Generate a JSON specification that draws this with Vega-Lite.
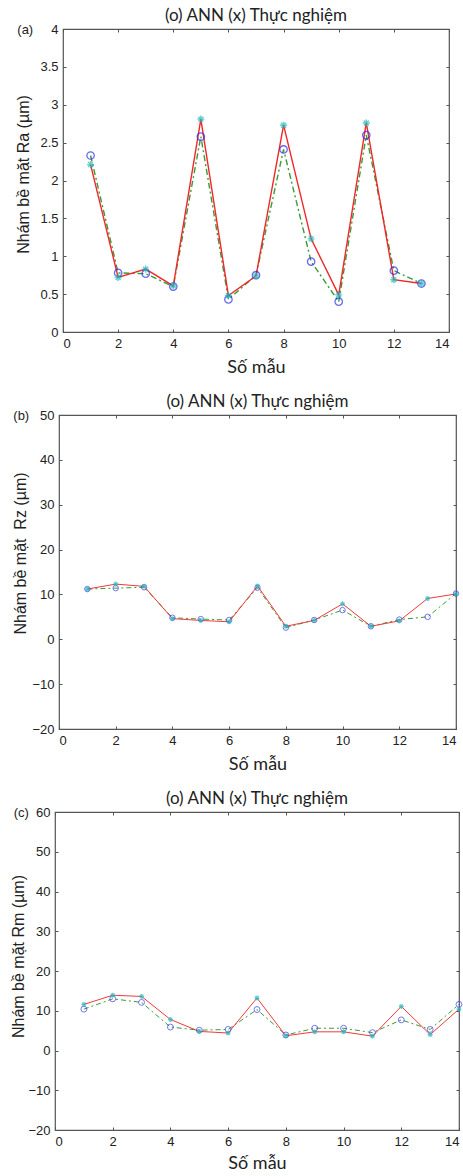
{
  "$schema": "https://vega.github.io/schema/vega-lite/v6.json",
  "background": "white",
  "padding": {"left": 0, "top": 6, "right": 0, "bottom": 0},
  "spacing": 15,
  "config": {
    "view": {"stroke": "#555", "strokeWidth": 1.2},
    "axis": {
      "labelFont": "Liberation Sans", "labelFontSize": 13, "labelColor": "#222",
      "titleFont": "Liberation Sans", "titleFontSize": 16, "titleFontWeight": "normal", "titleColor": "#222",
      "domain": false, "grid": false, "tickColor": "#555", "tickSize": -3, "labelPadding": 8
    },
    "title": {"font": "Lato", "fontSize": 17, "fontWeight": "normal", "color": "#222", "offset": -2}
  },
  "datasets": {
    "a": [
      {"x": 1, "ann": 2.33, "exp": 2.21},
      {"x": 2, "ann": 0.78, "exp": 0.72},
      {"x": 3, "ann": 0.77, "exp": 0.83},
      {"x": 4, "ann": 0.60, "exp": 0.61},
      {"x": 5, "ann": 2.58, "exp": 2.81},
      {"x": 6, "ann": 0.43, "exp": 0.48},
      {"x": 7, "ann": 0.75, "exp": 0.74},
      {"x": 8, "ann": 2.41, "exp": 2.73},
      {"x": 9, "ann": 0.93, "exp": 1.23},
      {"x": 10, "ann": 0.40, "exp": 0.49},
      {"x": 11, "ann": 2.60, "exp": 2.76},
      {"x": 12, "ann": 0.81, "exp": 0.69},
      {"x": 13, "ann": 0.64, "exp": 0.64}
    ],
    "b": [
      {"x": 1, "ann": 11.2, "exp": 11.2},
      {"x": 2, "ann": 11.4, "exp": 12.3},
      {"x": 3, "ann": 11.6, "exp": 11.8},
      {"x": 4, "ann": 4.8, "exp": 4.6},
      {"x": 5, "ann": 4.5, "exp": 4.2},
      {"x": 6, "ann": 4.3, "exp": 3.9},
      {"x": 7, "ann": 11.5, "exp": 11.9},
      {"x": 8, "ann": 2.6, "exp": 2.9},
      {"x": 9, "ann": 4.3, "exp": 4.2},
      {"x": 10, "ann": 6.5, "exp": 7.9},
      {"x": 11, "ann": 2.9, "exp": 2.9},
      {"x": 12, "ann": 4.4, "exp": 4.1},
      {"x": 13, "ann": 5.0, "exp": 9.1},
      {"x": 14, "ann": 10.2, "exp": 10.1}
    ],
    "c": [
      {"x": 1, "ann": 10.4, "exp": 11.6},
      {"x": 2, "ann": 13.0, "exp": 13.9},
      {"x": 3, "ann": 12.1, "exp": 13.6},
      {"x": 4, "ann": 5.9, "exp": 7.8},
      {"x": 5, "ann": 5.1, "exp": 4.8},
      {"x": 6, "ann": 5.3, "exp": 4.4},
      {"x": 7, "ann": 10.3, "exp": 13.2},
      {"x": 8, "ann": 3.9, "exp": 3.7},
      {"x": 9, "ann": 5.6, "exp": 4.7},
      {"x": 10, "ann": 5.6, "exp": 4.7},
      {"x": 11, "ann": 4.5, "exp": 3.6},
      {"x": 12, "ann": 7.7, "exp": 11.1},
      {"x": 13, "ann": 5.3, "exp": 4.0},
      {"x": 14, "ann": 11.6, "exp": 10.4}
    ],
    "none": []
  },
  "vconcat": [
    {
      "hconcat": [
        {"width": 14, "height": 10, "view": {"stroke": null}, "data": {"name": "none"}, "mark": "point"},
        {
          "width": 386, "height": 303,
          "title": {"text": "(o) ANN (x) Thực nghiệm"},
          "data": {"name": "a"},
          "resolve": {"axis": {"x": "independent", "y": "independent"}},
          "layer": [
            {"mark": {"type": "line", "color": "#3a9a3a", "strokeDash": [6, 3, 2, 3], "strokeWidth": 1.4},
             "encoding": {
               "x": {"field": "x", "type": "quantitative", "scale": {"domain": [0, 14], "nice": false, "zero": false},
                     "axis": {"values": [0, 2, 4, 6, 8, 10, 12, 14], "title": "Số mẫu", "titleFont": "Lato", "titleFontSize": 18, "titlePadding": 8}},
               "y": {"field": "ann", "type": "quantitative", "scale": {"domain": [0, 4], "nice": false, "zero": false},
                     "axis": {"values": [0, 0.5, 1, 1.5, 2, 2.5, 3, 3.5, 4], "format": ".1~f", "title": "Nhám bề mặt Ra (µm)", "titleX": -32, "titleY": 145,
                              "labelExpr": "datum.value == 4 ? '(a)\u00a0\u00a0\u00a0\u00a0\u00a04' : datum.label"}}
             }},
            {"mark": {"type": "line", "color": "#f02828", "strokeWidth": 1.4},
             "encoding": {
               "x": {"field": "x", "type": "quantitative", "scale": {"domain": [0, 14], "nice": false, "zero": false},
                     "axis": {"orient": "top", "values": [0, 2, 4, 6, 8, 10, 12, 14], "labels": false, "title": null}},
               "y": {"field": "exp", "type": "quantitative", "scale": {"domain": [0, 4], "nice": false, "zero": false},
                     "axis": {"orient": "right", "values": [0, 0.5, 1, 1.5, 2, 2.5, 3, 3.5, 4], "labels": false, "title": null}}
             }},
            {"mark": {"type": "point", "shape": "circle", "filled": false, "color": "#2a2aee", "size": 55, "strokeWidth": 1.3},
             "encoding": {
               "x": {"field": "x", "type": "quantitative", "scale": {"domain": [0, 14], "nice": false, "zero": false}, "axis": null},
               "y": {"field": "ann", "type": "quantitative", "scale": {"domain": [0, 4], "nice": false, "zero": false}, "axis": null}
             }},
            {"mark": {"type": "point", "shape": "M-1,0L1,0M0,-1L0,1M-0.7,-0.7L0.7,0.7M-0.7,0.7L0.7,-0.7", "filled": false, "color": "#1fb8b8", "size": 50, "strokeWidth": 1.4},
             "encoding": {
               "x": {"field": "x", "type": "quantitative", "scale": {"domain": [0, 14], "nice": false, "zero": false}, "axis": null},
               "y": {"field": "exp", "type": "quantitative", "scale": {"domain": [0, 4], "nice": false, "zero": false}, "axis": null}
             }}
          ]
        }
      ],
      "spacing": 0, "align": "none"
    },
    {
      "hconcat": [
        {"width": 11, "height": 10, "view": {"stroke": null}, "data": {"name": "none"}, "mark": "point"},
        {
          "width": 397, "height": 314,
          "title": {"text": "(o) ANN (x) Thực nghiệm"},
          "data": {"name": "b"},
          "resolve": {"axis": {"x": "independent", "y": "independent"}},
          "layer": [
            {"mark": {"type": "line", "color": "#3a9a3a", "strokeDash": [5, 3, 2, 3], "strokeWidth": 1},
             "encoding": {
               "x": {"field": "x", "type": "quantitative", "scale": {"domain": [0, 14], "nice": false, "zero": false},
                     "axis": {"values": [0, 2, 4, 6, 8, 10, 12, 14], "title": "Số mẫu", "titleFont": "Lato", "titleFontSize": 18, "titlePadding": 8}},
               "y": {"field": "ann", "type": "quantitative", "scale": {"domain": [-20, 50], "nice": false, "zero": false},
                     "axis": {"values": [-20, -10, 0, 10, 20, 30, 40, 50], "title": "Nhám bề mặt\u00a0 Rz (µm)", "titleX": -31, "titleY": 138,
                              "labelExpr": "datum.value == 50 ? '(b)\u00a0\u00a0\u00a050' : datum.label"}}
             }},
            {"mark": {"type": "line", "color": "#f03a3a", "strokeWidth": 1},
             "encoding": {
               "x": {"field": "x", "type": "quantitative", "scale": {"domain": [0, 14], "nice": false, "zero": false},
                     "axis": {"orient": "top", "values": [0, 2, 4, 6, 8, 10, 12, 14], "labels": false, "title": null}},
               "y": {"field": "exp", "type": "quantitative", "scale": {"domain": [-20, 50], "nice": false, "zero": false},
                     "axis": {"orient": "right", "values": [-20, -10, 0, 10, 20, 30, 40, 50], "labels": false, "title": null}}
             }},
            {"mark": {"type": "point", "shape": "circle", "filled": false, "color": "#3a3aee", "size": 30, "strokeWidth": 1},
             "encoding": {
               "x": {"field": "x", "type": "quantitative", "scale": {"domain": [0, 14], "nice": false, "zero": false}, "axis": null},
               "y": {"field": "ann", "type": "quantitative", "scale": {"domain": [-20, 50], "nice": false, "zero": false}, "axis": null}
             }},
            {"mark": {"type": "point", "shape": "M-1,0L1,0M0,-1L0,1M-0.7,-0.7L0.7,0.7M-0.7,0.7L0.7,-0.7", "filled": false, "color": "#1fb8b8", "size": 25, "strokeWidth": 1.2},
             "encoding": {
               "x": {"field": "x", "type": "quantitative", "scale": {"domain": [0, 14], "nice": false, "zero": false}, "axis": null},
               "y": {"field": "exp", "type": "quantitative", "scale": {"domain": [-20, 50], "nice": false, "zero": false}, "axis": null}
             }}
          ]
        }
      ],
      "spacing": 0, "align": "none"
    },
    {
      "hconcat": [
        {"width": 9, "height": 10, "view": {"stroke": null}, "data": {"name": "none"}, "mark": "point"},
        {
          "width": 404, "height": 318,
          "title": {"text": "(o) ANN (x) Thực nghiệm"},
          "data": {"name": "c"},
          "resolve": {"axis": {"x": "independent", "y": "independent"}},
          "layer": [
            {"mark": {"type": "line", "color": "#3a9a3a", "strokeDash": [5, 3, 2, 3], "strokeWidth": 1},
             "encoding": {
               "x": {"field": "x", "type": "quantitative", "scale": {"domain": [0, 14], "nice": false, "zero": false},
                     "axis": {"values": [0, 2, 4, 6, 8, 10, 12, 14], "title": "Số mẫu", "titleFont": "Lato", "titleFontSize": 18, "titlePadding": 6}},
               "y": {"field": "ann", "type": "quantitative", "scale": {"domain": [-20, 60], "nice": false, "zero": false},
                     "axis": {"values": [-20, -10, 0, 10, 20, 30, 40, 50, 60], "title": "Nhám bề mặt Rm (µm)", "titleX": -29, "titleY": 144,
                              "labelExpr": "datum.value == 60 ? '(c)\u00a0\u00a060' : datum.label"}}
             }},
            {"mark": {"type": "line", "color": "#f03a3a", "strokeWidth": 1},
             "encoding": {
               "x": {"field": "x", "type": "quantitative", "scale": {"domain": [0, 14], "nice": false, "zero": false},
                     "axis": {"orient": "top", "values": [0, 2, 4, 6, 8, 10, 12, 14], "labels": false, "title": null}},
               "y": {"field": "exp", "type": "quantitative", "scale": {"domain": [-20, 60], "nice": false, "zero": false},
                     "axis": {"orient": "right", "values": [-20, -10, 0, 10, 20, 30, 40, 50, 60], "labels": false, "title": null}}
             }},
            {"mark": {"type": "point", "shape": "circle", "filled": false, "color": "#3a3aee", "size": 35, "strokeWidth": 1},
             "encoding": {
               "x": {"field": "x", "type": "quantitative", "scale": {"domain": [0, 14], "nice": false, "zero": false}, "axis": null},
               "y": {"field": "ann", "type": "quantitative", "scale": {"domain": [-20, 60], "nice": false, "zero": false}, "axis": null}
             }},
            {"mark": {"type": "point", "shape": "M-1,0L1,0M0,-1L0,1M-0.7,-0.7L0.7,0.7M-0.7,0.7L0.7,-0.7", "filled": false, "color": "#1fb8b8", "size": 25, "strokeWidth": 1.2},
             "encoding": {
               "x": {"field": "x", "type": "quantitative", "scale": {"domain": [0, 14], "nice": false, "zero": false}, "axis": null},
               "y": {"field": "exp", "type": "quantitative", "scale": {"domain": [-20, 60], "nice": false, "zero": false}, "axis": null}
             }}
          ]
        }
      ],
      "spacing": 0, "align": "none"
    }
  ]
}
